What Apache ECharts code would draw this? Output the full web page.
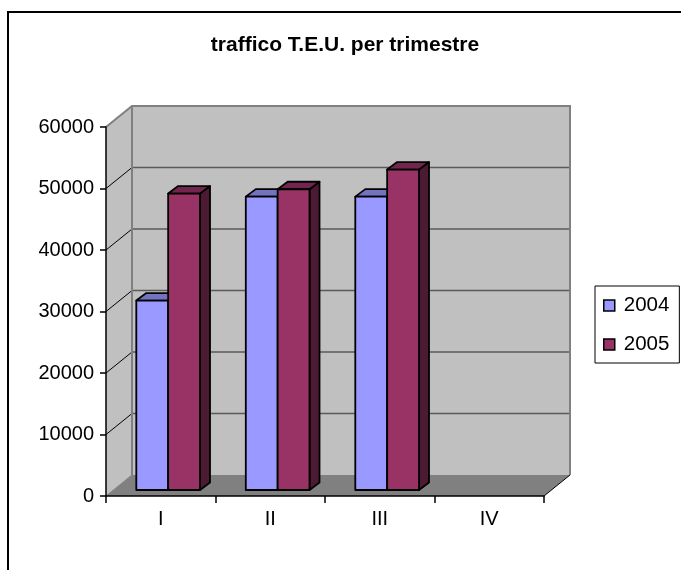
<!DOCTYPE html>
<html>
<head>
<meta charset="utf-8">
<script src="https://cdn.jsdelivr.net/npm/echarts@6/dist/echarts.min.js"></script>
<style>
html,body{margin:0;padding:0;background:#fff;}
#c{width:681px;height:570px;}
</style>
</head>
<body>
<div id="c"></div>
<script>
const categories = ['I', 'II', 'III', 'IV'];
const seriesNames = ['2004', '2005'];
const values2004 = [30800, 47700, 47700, null];
const values2005 = [48200, 48900, 52100, null];
const yTicks = [0, 10000, 20000, 30000, 40000, 50000, 60000];

const FONT = 'Liberation Sans, Arial, sans-serif';
const DEPTH = [26, -21];      // wall depth offset
const BAR_OFF = [7.4, -6];    // bar front plane offset
const BAR_D = [10, -7.5];     // bar depth
const COLORS = [
  {front: '#9999ff', top: '#7373bf', side: '#4d4d80'},
  {front: '#993366', top: '#73264d', side: '#4d1a33'}
];

const chart = echarts.init(document.getElementById('c'), null, {renderer: 'canvas'});

function frameItem(params, api) {
  const band = api.size([1, 0])[0];
  const c0 = api.coord([0, 0]);
  const c3 = api.coord([categories.length - 1, 0]);
  const L = c0[0] - band / 2, R = c3[0] + band / 2;
  const B = c0[1];
  const T = api.coord([0, yTicks[yTicks.length - 1]])[1];
  const dx = DEPTH[0], dy = DEPTH[1];
  const ch = [];
  ch.push({type: 'polygon', shape: {points: [[L, B], [L, T], [L + dx, T + dy], [L + dx, B + dy]]}, style: {fill: '#c0c0c0'}});
  ch.push({type: 'rect', shape: {x: L + dx, y: T + dy, width: R - L, height: B - T}, style: {fill: '#c0c0c0'}});
  ch.push({type: 'polygon', shape: {points: [[L, B], [R, B], [R + dx, B + dy], [L + dx, B + dy]]}, style: {fill: '#808080'}});
  for (let i = 1; i < yTicks.length - 1; i++) {
    const y = api.coord([0, yTicks[i]])[1];
    ch.push({type: 'line', shape: {x1: L + dx, y1: y + dy, x2: R + dx, y2: y + dy}, style: {stroke: '#5a5a5a', lineWidth: 1.5}});
    ch.push({type: 'line', shape: {x1: L, y1: y, x2: L + dx, y2: y + dy}, style: {stroke: '#000', lineWidth: 1}});
  }
  const edge = {stroke: '#808080', lineWidth: 2};
  ch.push({type: 'polyline', shape: {points: [[L, T], [L + dx, T + dy], [R + dx, T + dy], [R + dx, B + dy]]}, style: Object.assign({fill: null}, edge)});
  ch.push({type: 'line', shape: {x1: L + dx, y1: T + dy, x2: L + dx, y2: B + dy}, style: edge});
  ch.push({type: 'line', shape: {x1: L, y1: B, x2: L + dx, y2: B + dy}, style: {stroke: '#808080', lineWidth: 1}});
  ch.push({type: 'line', shape: {x1: R, y1: B, x2: R + dx, y2: B + dy}, style: {stroke: '#000', lineWidth: 1}});
  return {type: 'group', children: ch};
}

function makeBarRenderer(sIdx) {
  return function (params, api) {
    const cat = api.value(0), v = api.value(1);
    if (v == null || isNaN(v)) return null;
    const band = api.size([1, 0])[0];
    const bw = band * 32 / 110;
    const base = api.coord([cat, 0]);
    const top = api.coord([cat, v]);
    const x0 = base[0] - bw + sIdx * bw + BAR_OFF[0];
    const x1 = x0 + bw;
    const yb = base[1] + BAR_OFF[1];
    const yt = top[1] + BAR_OFF[1];
    const dx = BAR_D[0], dy = BAR_D[1];
    const col = COLORS[sIdx];
    const st = {stroke: '#000', lineWidth: 1.8, lineJoin: 'round'};
    return {
      type: 'group',
      children: [
        {type: 'polygon', shape: {points: [[x1, yt], [x1 + dx, yt + dy], [x1 + dx, yb + dy], [x1, yb]]}, style: Object.assign({fill: col.side}, st)},
        {type: 'polygon', shape: {points: [[x0, yt], [x1, yt], [x1 + dx, yt + dy], [x0 + dx, yt + dy]]}, style: Object.assign({fill: col.top}, st)},
        {type: 'rect', shape: {x: x0, y: yt, width: bw, height: yb - yt}, style: Object.assign({fill: col.front}, st)}
      ]
    };
  };
}

const d2004 = categories.map((c, i) => [i, values2004[i]]);
const d2005 = categories.map((c, i) => [i, values2005[i]]);

chart.setOption({
  animation: false,
  backgroundColor: '#fff',
  title: {
    text: 'traffico T.E.U. per trimestre',
    left: 340,
    top: 30,
    textAlign: 'center',
    textStyle: {fontFamily: FONT, fontSize: 21, fontWeight: 'bold', color: '#000'}
  },
  legend: {
    orient: 'vertical',
    left: 595,
    top: 286,
    padding: [9, 10, 8, 8],
    itemGap: 18,
    itemWidth: 11,
    itemHeight: 11,
    borderColor: '#000',
    borderWidth: 1,
    icon: 'rect',
    textStyle: {fontFamily: FONT, fontSize: 20.5, color: '#000', padding: [0, 0, 0, 4]},
    data: [
      {name: seriesNames[0], itemStyle: {color: COLORS[0].front, borderColor: '#000', borderWidth: 1.5}},
      {name: seriesNames[1], itemStyle: {color: COLORS[1].front, borderColor: '#000', borderWidth: 1.5}}
    ]
  },
  graphic: [{
    type: 'rect', z: 100,
    shape: {x: 8, y: 12, width: 700, height: 600},
    style: {fill: null, stroke: '#000', lineWidth: 2}
  }],
  grid: {left: 106, right: 137, top: 127, bottom: 74, containLabel: false},
  xAxis: {
    type: 'category',
    data: categories,
    boundaryGap: true,
    z: 10,
    axisLine: {lineStyle: {color: '#000', width: 1.5}},
    axisTick: {show: true, length: 7, alignWithLabel: false, lineStyle: {color: '#000', width: 1.5}},
    axisLabel: {fontFamily: FONT, fontSize: 20, color: '#000', margin: 13},
    splitLine: {show: false}
  },
  yAxis: {
    type: 'value',
    min: 0,
    max: 60000,
    interval: 10000,
    z: 10,
    axisLine: {show: true, lineStyle: {color: '#000', width: 1.5}},
    axisTick: {show: true, length: 6, lineStyle: {color: '#000', width: 1.5}},
    axisLabel: {fontFamily: FONT, fontSize: 20, color: '#000', margin: 12, formatter: function (v) { return String(v); }},
    splitLine: {show: false}
  },
  series: [
    {
      type: 'custom', name: '_frame', silent: true, clip: false, z: 1,
      renderItem: frameItem,
      data: [[0, 0]],
      encode: {x: 0, y: 1}
    },
    {
      type: 'custom', name: seriesNames[0], clip: false, z: 2,
      itemStyle: {color: COLORS[0].front},
      renderItem: makeBarRenderer(0),
      data: d2004,
      encode: {x: 0, y: 1}
    },
    {
      type: 'custom', name: seriesNames[1], clip: false, z: 3,
      itemStyle: {color: COLORS[1].front},
      renderItem: makeBarRenderer(1),
      data: d2005,
      encode: {x: 0, y: 1}
    }
  ]
});
</script>
</body>
</html>
